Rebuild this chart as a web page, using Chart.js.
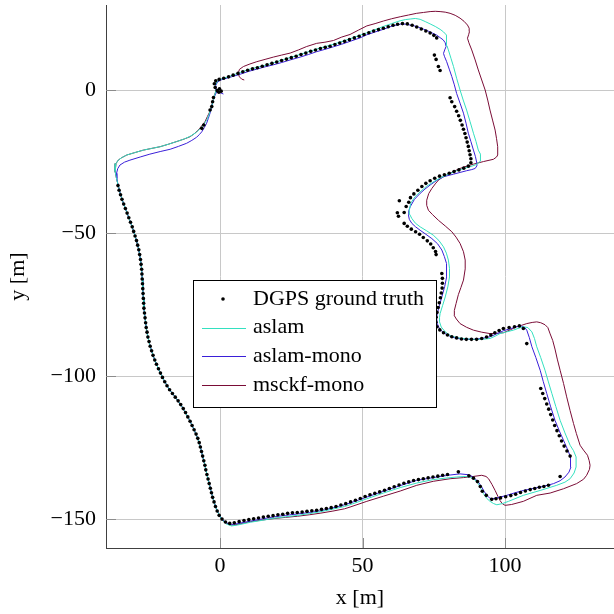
<!DOCTYPE html>
<html lang="en">
<head>
    <meta charset="UTF-8">
    <title>Trajectory comparison</title>
    <script src="https://cdn.jsdelivr.net/npm/chart.js"></script>
    <style>
        html, body { margin: 0; background: #fff; overflow: hidden; }
        #wrap { width: 614px; height: 614px; overflow: hidden; }
        canvas { display: block; }
    </style>
</head>
<body>
    <div id="wrap"><canvas id="trajChart" width="618" height="614"></canvas></div>

    <script>
        const seriesNames = ['DGPS ground truth', 'aslam', 'aslam-mono', 'msckf-mono'];
        const seriesColors = ['#000000', '#33e0c0', '#3a1fd8', '#7a0c36'];
        const xTicks = [0, 50, 100];
        const yTicks = [0, -50, -100, -150];

        // DGPS ground truth dots [x, y] in metres
        const dgpsPts = [
            [-0.4,-0.8],[0.4,-0.4],[-1,-0.2],[-0.2,0.4],[-1.7,0.9],[-2,2.2],[-1.5,3.2],[-0.3,3.7],[1.3,4.1],[3,4.6],
            [4.6,5.2],[6.3,5.8],[8,6.4],[9.7,6.9],[11.4,7.4],[13.1,7.8],[14.8,8.3],[16.5,8.8],[18.2,9.3],[19.9,9.8],
            [21.6,10.3],[23.3,10.8],[25,11.3],[26.7,11.8],[28.4,12.4],[30.1,12.9],[31.8,13.5],[33.5,14],[35.2,14.5],[36.9,14.9],
            [38.6,15.3],[40.3,15.9],[42,16.4],[43.7,17],[45.4,17.6],[47.1,18.2],[48.8,18.8],[50.5,19.4],[52.2,20],[53.9,20.6],
            [55.6,21.1],[57.3,21.6],[59,22.1],[60.7,22.6],[62.3,23],[64,23.2],[65.7,23.1],[67.4,22.6],[69,22],[70.6,21.3],
            [72.2,20.6],[73.7,19.9],[75,19.1],[76,18.2],
            [75.2,12.2],[75.8,10.7],[76.6,8.2],[77.2,6.8],
            [80.7,-2.7],[81.3,-4.1],[82.3,-5.8],[83,-7.4],[83.7,-9],[84.3,-10.6],[84.9,-12.2],[85.4,-13.7],[85.9,-15.2],[86.3,-16.7],
            [86.7,-18.2],[87.1,-19.7],[87.4,-21.2],[87.7,-22.6],[88,-24],[88,-25.4],[87.1,-26.6],[85.5,-27.3],[83.8,-27.9],[82.1,-28.5],
            [80.4,-29.1],[78.7,-29.6],[77,-30.1],[75.3,-30.8],[73.7,-31.7],[72.2,-32.6],[70.8,-33.7],[69.4,-35],[68,-36.3],[66.8,-37.6],
            [66.2,-39.2],[65.3,-40.7],
            [62.9,-38.7],[62.2,-42.9],[62.6,-44.1],[64.6,-42.8],
            [64.6,-46.6],[65.7,-47.6],[67.1,-48.6],[68.6,-49.5],[70,-50.4],[71.3,-51.5],[72.7,-52.7],[73.9,-53.8],[74.8,-55.1],[75.6,-56.4],
            [75.8,-57.5],
            [77.8,-64.1],[78,-65.8],[78,-67.5],[77.9,-69.2],[77.6,-70.9],[77.3,-72.6],[76.9,-74.3],[76.5,-76],[76.1,-77.7],[75.8,-79.4],
            [75.7,-81.1],[76.1,-82.7],[77.1,-83.8],[78.4,-84.8],[79.8,-85.6],[81.3,-86.2],[83,-86.6],[84.7,-87],[86.4,-87.1],[88.2,-87.1],
            [90,-87.1],[91.8,-86.8],[93.5,-86.3],[95,-85.6],[96.4,-84.8],[97.9,-84],[99.4,-83.3],[101.4,-83],[103.3,-82.7],[105,-82.4],
            [106.4,-83.3],[107.6,-88.6],
            [112.5,-104.3],[113.2,-106],[113.9,-107.8],[114.6,-109.7],[115.3,-111.5],[116,-113.4],[116.7,-115.3],[117.4,-117.2],[118.2,-119],[119,-120.8],
            [119.8,-122.6],[120.7,-124.4],[121.7,-126.1],[122.8,-127.9],
            [119.3,-135],
            [115.2,-138.1],[113.6,-138.5],[112,-138.8],[110.4,-139.2],[108.8,-139.6],[107.1,-140.1],[105.4,-140.6],[103.7,-141.2],[102,-141.7],[100.2,-142.1],
            [98.4,-142.5],[96.8,-142.8],[95.3,-143],
            [93.4,-141.6],[92,-140.2],[91.3,-138.5],[90.3,-136.8],[88.9,-135.6],[87.3,-134.8],
            [83.6,-133.4],
            [79.8,-134.3],[78.1,-134.6],[76.4,-134.9],[74.7,-135.2],[73,-135.5],[71.3,-135.8],[69.6,-136.1],[67.9,-136.4],[66.2,-136.9],[64.5,-137.4],
            [62.8,-138],[61.1,-138.6],[59.4,-139.2],[57.7,-139.8],[56,-140.4],[54.3,-140.9],[52.6,-141.4],[50.9,-142],[49.2,-142.7],[47.5,-143.3],
            [45.8,-143.9],[44.1,-144.5],[42.4,-145],[40.7,-145.5],[39,-145.9],[37.3,-146.2],[35.6,-146.5],[33.9,-146.8],[32.2,-147],[30.5,-147.2],
            [28.8,-147.4],[27.1,-147.6],[25.4,-147.7],[23.7,-147.9],[22,-148.2],[20.3,-148.4],[18.6,-148.7],[16.9,-148.9],[15.2,-149.2],[13.5,-149.5],
            [11.8,-149.8],[10.1,-150.1],[8.4,-150.4],[6.7,-150.8],[5,-151.2],[3.4,-151.4],[1.9,-150.9],[0.7,-149.9],[-0.3,-148.6],[-1,-147.1],
            [-1.6,-145.5],[-2.1,-143.9],
            [-2.6,-142.3],[-3,-140.7],[-3.4,-139.1],[-3.8,-137.5],[-4.2,-135.9],[-4.6,-134.3],[-5,-132.7],[-5.3,-131.1],[-5.7,-129.5],[-6.1,-127.9],
            [-6.5,-126.3],[-6.9,-124.7],[-7.3,-123.2],[-7.8,-121.7],[-8.4,-120.2],[-9.1,-118.7],[-9.8,-117.2],[-10.5,-115.7],[-11.3,-114.2],[-12.1,-112.7],
            [-12.9,-111.3],[-13.8,-109.9],[-14.7,-108.6],[-15.7,-107.3],[-16.7,-106],[-17.7,-104.7],[-18.6,-103.3],[-19.4,-101.9],[-20.2,-100.4],[-20.9,-98.9],
            [-21.6,-97.4],[-22.3,-95.8],[-22.9,-94.3],[-23.5,-92.7],[-24,-91.1],[-24.5,-89.5],[-24.9,-87.9],[-25.3,-86.3],[-25.6,-84.6],[-25.9,-83],
            [-26.1,-81.3],[-26.3,-79.6],[-26.5,-77.9],[-26.7,-76.2],[-26.8,-74.5],[-26.9,-72.8],[-27,-71.1],[-27.1,-69.4],[-27.2,-67.7],[-27.3,-66],
            [-27.4,-64.3],[-27.5,-62.6],[-27.7,-60.9],[-27.9,-59.2],[-28.2,-57.5],[-28.5,-55.8],[-28.9,-54.2],[-29.3,-52.6],[-29.8,-51],[-30.3,-49.4],
            [-30.8,-47.8],[-31.4,-46.2],[-32,-44.6],[-32.6,-43],[-33.2,-41.4],[-33.8,-39.8],[-34.4,-38.2],[-34.9,-36.6],[-35.4,-35],[-35.8,-33.4],
            [-6.4,-13.4],[-5.7,-12.2],[-3.5,-7],[-2.9,-5.8],[-2.6,-4.1],[-2.3,-2.6]
        ];

        const aslamPts = [
            [-1.3,0.3],[-1.8,-1.5],[-2.4,-3.8],[-3.1,-6.2],[-3.8,-8.4],[-4.6,-10.3],[-5.6,-11.9],[-6.8,-13.3],[-8.3,-14.8],[-10.5,-16.2],
            [-12.8,-17.2],[-15.2,-18],[-18,-18.9],[-21,-19.8],[-24,-20.4],[-26.9,-21],[-30,-21.9],[-32.7,-22.7],[-34.6,-23.7],[-35.7,-24.5],
            [-36.5,-25.7],[-36.8,-26.8],[-36.8,-28.5],[-36.4,-30.5],[-35.8,-33],
            [-34.9,-36.6],[-33.8,-39.8],[-32.6,-43],[-31.4,-46.2],[-30.3,-49.4],[-29.3,-52.6],[-28.5,-55.8],[-27.9,-59.2],[-27.5,-62.6],[-27.3,-66],
            [-27.1,-69.4],[-26.9,-72.8],[-26.7,-76.2],[-26.3,-79.6],[-25.9,-83],[-25.3,-86.3],[-24.5,-89.5],[-23.5,-92.7],[-22.3,-95.8],[-20.9,-98.9],
            [-19.4,-101.9],[-17.7,-104.7],[-15.7,-107.3],[-13.8,-109.9],[-12.1,-112.7],[-10.5,-115.7],[-9.1,-118.7],[-7.8,-121.7],[-6.9,-124.7],[-6.1,-127.9],
            [-5.3,-131.1],[-4.6,-134.3],[-3.8,-137.5],[-3,-140.7],[-2.1,-143.9],[-1,-147.1],
            [0.5,-149.9],[2,-151.5],[4,-152.3],[6,-152],[10.7,-151],[15,-150.3],[19,-149.6],[23,-149.1],[27.2,-148.6],[31.3,-148],
            [35.4,-147.3],[39.6,-146.4],[43.7,-145.5],[45.6,-144.9],[51.5,-142.8],[57.3,-140.8],[63.2,-138.9],[69,-137.3],[74.8,-136.1],[79,-135.6],
            [83,-135.2],[86,-135],[87.7,-135.2],[89.4,-136.2],[90.6,-137.5],[91.5,-139.3],[92.4,-141],[93.5,-142.6],[94.7,-143.7],[96,-144.5],
            [97.1,-144.9],[99,-144.5],[101.2,-143.7],[106.4,-141.6],[112.3,-139.9],[118.1,-138.1],[121,-137],[122.8,-135.8],[124.2,-133.8],[124.9,-131.7],
            [124.9,-128.2],[124,-126],[122.8,-124.1],[121,-119.8],[119.3,-115.4],[117.8,-110.6],[116.4,-106],[115.2,-102],[114,-97.9],[112.5,-93.5],
            [111.1,-89.7],[110.3,-86.8],[109.4,-84.5],[108,-83],[106.4,-82.7],[104.5,-83.3],[102.9,-83.9],[100.5,-84.5],[98.2,-85.1],[96.5,-86],
            [94.7,-86.8],[91.8,-87.1],[88.9,-87.1],[86,-86.9],[83,-86.5],[80.8,-85.8],[79,-84.5],[77.6,-82.8],[77,-81],[77,-79.5],
            [77.2,-78.1],[78.1,-75.2],[79,-72.3],[79.9,-68.8],[80.5,-65.3],[80.5,-62.3],[80.1,-59.4],[79.4,-57],[78.4,-54.8],[76.8,-52.6],
            [74.8,-50.7],[72.5,-49.2],[70.2,-47.8],[68.5,-46.5],[67.3,-44.9],[66.5,-43.4],[66.4,-42],[66.9,-39.5],[68.4,-37.3],[70.5,-35.3],
            [72.5,-33.6],[75.3,-31.8],[77.5,-30.6],[79.5,-29.7],[83,-28.2],[85.5,-27.4],[87.7,-26.8],[89.5,-26.2],[90.6,-25.6],[91.3,-24.8],
            [91.5,-23.9],[91.2,-22.4],[90.6,-21],[89.8,-18],[88.9,-15.1],[87.7,-11],[86.5,-7],[85.3,-3.5],[84.2,0],[83,4.1],
            [81.9,8.2],[81,11.1],[80.1,14],[79.6,15.5],[79.5,16.9],[79.5,18.3],[79.3,19.2],[78.4,20.3],[77.2,21.2],[75.5,22.2],
            [73.7,23.1],[72,23.9],[70.2,24.7],[68.5,25],[66.7,24.8],[65,24.6],[63.2,24.2],[60.2,23.2],[57.3,22.2],[51.5,20],
            [45.6,17.9],[39.8,16],[33.9,14.3],[28,12.4],[22.2,10.6],[16.4,8.8],[10.5,7.3],[5.8,5.7],[2.5,4.5],[0.3,3.8],
            [-1,3],[-1.7,1.6]
        ];

        const aslamMonoPts = [
            [1.2,-1.4],[0,-0.9],[-1.2,-0.7],[-1.8,-2],[-2.3,-3.5],[-2.9,-5.8],[-3.5,-8.1],[-4.1,-9.9],[-4.7,-11.6],[-5.5,-13.1],
            [-6.4,-14.6],[-7.3,-15.6],[-8.2,-16.5],[-9.9,-17.6],[-11.7,-18.6],[-14.6,-19.7],[-17.5,-20.7],[-21,-21.5],[-24.6,-22.4],[-28,-23.4],
            [-31.6,-24.5],[-33.5,-25.2],[-35.1,-26.2],[-35.9,-27.5],[-36.3,-29.1],[-36.2,-31],[-35.8,-33],
            [-34.9,-36.6],[-33.8,-39.8],[-32.6,-43],[-31.4,-46.2],[-30.3,-49.4],[-29.3,-52.6],[-28.5,-55.8],[-27.9,-59.2],[-27.5,-62.6],[-27.3,-66],
            [-27.1,-69.4],[-26.9,-72.8],[-26.7,-76.2],[-26.3,-79.6],[-25.9,-83],[-25.3,-86.3],[-24.5,-89.5],[-23.5,-92.7],[-22.3,-95.8],[-20.9,-98.9],
            [-19.4,-101.9],[-17.7,-104.7],[-15.7,-107.3],[-13.8,-109.9],[-12.1,-112.7],[-10.5,-115.7],[-9.1,-118.7],[-7.8,-121.7],[-6.9,-124.7],[-6.1,-127.9],
            [-5.3,-131.1],[-4.6,-134.3],[-3.8,-137.5],[-3,-140.7],[-2.1,-143.9],[-1,-147.1],
            [0.5,-149.7],[2,-151.1],[4,-151.8],[6,-151.5],[10.7,-150.6],[15,-149.8],[19,-149.1],[23,-148.6],[27.2,-148.1],[31.3,-147.6],
            [35.4,-147],[39.6,-146],[43.7,-144.9],[45.6,-144.3],[51.5,-142.2],[57.3,-140.2],[63.2,-138.2],[69,-136.4],[74.8,-135.4],[80.7,-134.5],
            [84.2,-134.1],[87.1,-134.4],[88.5,-135],[89.5,-135.8],[90.8,-137.2],[91.8,-138.7],[92.7,-140.3],[93.6,-141.6],[94.5,-142.5],[95.3,-142.8],
            [97.1,-142.5],[100.6,-141.6],[103.5,-140.7],[106.4,-139.9],[109.4,-139.3],[112.3,-138.7],[114.8,-138.1],[117,-137.5],[119.3,-136.5],[121,-135.2],
            [122.4,-133.5],[123.1,-131.7],[123.1,-129.8],[122.8,-128.2],[122,-125.8],[121,-123.5],[119.2,-119.5],[117.5,-115.4],[116,-110.7],[114.6,-106],
            [113.4,-101.9],[112.3,-97.9],[110.8,-93.5],[109.4,-89.7],[108.5,-86.5],[107.6,-83.9],[106.8,-82.9],[105.8,-82.5],[104,-82.7],[101.8,-83.4],
            [99.4,-84.1],[97,-85.2],[94.7,-86.2],[91.8,-86.8],[88.9,-87.1],[86,-87],[83,-86.8],[80.6,-86],[78.4,-84.8],[77,-83.4],
            [76.2,-81.6],[76,-79.8],[76.2,-78.1],[77,-75.2],[77.8,-72.3],[78.8,-68.7],[79.5,-65.3],[79.6,-62.8],[79.3,-60.6],[78.7,-58.2],
            [77.8,-55.9],[76.3,-53.7],[74.3,-51.9],[72.2,-50.4],[70.2,-49],[68.6,-47.8],[67.3,-46.6],[66.4,-45.2],[66.1,-43.7],[66.2,-42.2],
            [66.7,-40.8],[68.2,-38.2],[70.2,-36.1],[71.9,-34.6],[73.7,-33.2],[76,-31.6],[78.4,-30.3],[81.9,-29.4],[84.2,-28.8],[86.5,-28.2],
            [88.3,-27.8],[89.5,-27.4],[90.1,-26.5],[90.1,-25.6],[89.6,-23.3],[88.9,-21],[88,-18],[87.1,-15.1],[86.3,-11.6],[85.4,-8.1],
            [84.2,-4.6],[83,-1.2],[82.2,1.8],[81.3,4.7],[80.4,7.3],[79.5,9.9],[78.7,11.8],[78.4,12.8],[78.8,14],[79.3,15.2],
            [79,16.5],[78.3,17.5],[77.2,18.3],[76,19.2],[74.5,19.9],[73,20.6],[71.3,21.3],[69.5,22],[67.8,22.5],[66.7,22.7],
            [65,23],[63.2,23],[60,22.2],[57.3,21.2],[54.5,20.3],[51.5,19.3],[49.1,18.2],[45.6,17],[42.7,16],[39.8,15.1],
            [36.8,14.2],[33.9,13.4],[31,12.4],[28.1,11.5],[24.6,10.5],[21.6,9.6],[18.7,8.8],[15.8,8.1],[12.9,7.3],[10,6.5],
            [7,5.5],[4,4.6],[1.5,3.9],[0,3.4],[-1,2.6],[-1.6,1.4],[-1.5,0.2]
        ];

        const msckfMonoPts = [
            [-1.4,-0.3],[-1.9,-1.6],[-2.6,-4],[-3.3,-7],[-4.4,-9.2],[-5.3,-11.1],[-6.5,-12.6],[-7.6,-14],[-9.2,-15.4],[-10.5,-16.3],
            [-12.5,-17.1],[-15.2,-18],[-18,-18.9],[-21,-19.8],[-24,-20.4],[-26.9,-21],[-30,-21.9],[-32.7,-22.7],[-34.6,-23.7],[-35.7,-24.5],
            [-36.5,-25.7],[-36.8,-26.8],[-36.8,-28.5],[-36.4,-30.5],[-35.8,-33],
            [-34.9,-36.6],[-33.8,-39.8],[-32.6,-43],[-31.4,-46.2],[-30.3,-49.4],[-29.3,-52.6],[-28.5,-55.8],[-27.9,-59.2],[-27.5,-62.6],[-27.3,-66],
            [-27.1,-69.4],[-26.9,-72.8],[-26.7,-76.2],[-26.3,-79.6],[-25.9,-83],[-25.3,-86.3],[-24.5,-89.5],[-23.5,-92.7],[-22.3,-95.8],[-20.9,-98.9],
            [-19.4,-101.9],[-17.7,-104.7],[-15.7,-107.3],[-13.8,-109.9],[-12.1,-112.7],[-10.5,-115.7],[-9.1,-118.7],[-7.8,-121.7],[-6.9,-124.7],[-6.1,-127.9],
            [-5.3,-131.1],[-4.6,-134.3],[-3.8,-137.5],[-3,-140.7],[-2.1,-143.9],[-1,-147.1],
            [0.5,-149.8],[2,-151.2],[4,-152],[6,-151.8],[10.7,-150.8],[15,-150.2],[19,-149.7],[23,-149.3],[27.2,-148.9],[31.3,-148.4],
            [35.4,-147.8],[39.6,-147.1],[43.7,-146.3],[45.6,-145.7],[51.5,-143.7],[57.3,-141.9],[63.2,-140.1],[69,-138.1],[74.8,-136.7],[80.7,-135.8],
            [85.4,-135.4],[88.9,-135],[91.8,-134.6],[93.3,-135],[94.2,-135.8],[95.4,-137.8],[96.5,-139.9],[97.5,-142],[98.2,-143.4],[99,-144.5],
            [100,-145.1],[102.3,-144.8],[106.4,-143.7],[111.1,-141.6],[115.8,-140.8],[120.5,-139.3],[125.1,-137.5],[127.5,-136],[128.6,-134.6],[129.6,-132.5],
            [129.8,-131.1],[129.5,-129.5],[128.9,-127.6],[127.5,-125.8],[126.3,-124.1],[125,-120],[124,-116.5],[122.8,-112],[121.6,-107.2],[120.5,-102.5],
            [119.3,-97.9],[118.3,-94],[117.5,-90.5],[116.7,-87.5],[115.8,-85.2],[115,-83],[114,-82],[112.5,-81.3],[111.1,-81],[109.5,-81.2],
            [107.6,-81.6],[105.8,-82.2],[104,-82.7],[101.8,-83.8],[99.4,-84.8],[97,-85],[94.7,-85.1],[91.8,-84.6],[88.9,-83.9],[86.5,-82.9],
            [84.2,-81.6],[82.9,-80],[82.1,-78.7],[82.2,-77],[82.8,-74.6],[83.6,-71.5],[84.5,-69],[85.4,-66.4],[86,-62.5],[86,-59.4],
            [85.4,-56.5],[84.2,-53.6],[82.8,-51.4],[81.3,-49.5],[79,-47.5],[76.6,-45.5],[74.5,-43.5],[73.1,-42],[72.5,-40.3],[72.5,-38.5],
            [73.2,-36.2],[74.3,-34.4],[75.5,-32.8],[76.6,-31.5],[78,-30.5],[79.5,-29.7],[82,-28.4],[84.2,-27.4],[86.5,-26.6],[88.9,-25.9],
            [92.4,-25],[95.9,-24.2],[97,-23.4],[97.4,-22.7],[97.4,-19.8],[97,-17],[96.5,-14],[95.6,-10.5],[94.7,-7],[93.9,-3.5],
            [93,0],[91.8,3.5],[90.6,7],[89.5,10.5],[88.3,14],[87.3,16.5],[86.8,18.1],[87.2,19.3],[87.5,20.4],[87.4,21.6],
            [86.8,22.7],[85.6,24],[84.2,25.1],[82.5,26.1],[80.7,26.8],[79,27.2],[77.2,27.4],[75.5,27.5],[73.7,27.4],[71.4,27.1],
            [69,26.8],[66.1,26.2],[63.2,25.6],[60.2,24.9],[57.3,24.1],[54.4,23.2],[51.5,22.4],[48.5,20.9],[45.6,19.4],[42.7,18.5],
            [39.8,17.3],[36.8,16.7],[33.9,16.3],[30.4,15.2],[27.5,14],[24.6,12.9],[21.6,12.2],[18.7,11.5],[15.8,10.7],[12.9,9.9],
            [10.5,9.1],[8.2,8.2],[6.8,7.2],[6.4,5.8],[6.8,4.6],[7.6,3.8],[8.5,3.5]
        ];

        const toXY = pts => pts.map(p => ({ x: p[0], y: p[1] }));
        const minusSign = v => String(v).replace('-', '\u2212');

        // ticks drawn inwards from the two axis lines
        const innerTicks = {
            id: 'innerTicks',
            beforeDatasetsDraw(chart) {
                const { ctx, chartArea: a, scales: { x, y } } = chart;
                ctx.save();
                ctx.strokeStyle = '#8c8c8c';
                ctx.lineWidth = 1;
                ctx.beginPath();
                xTicks.forEach(v => {
                    const px = Math.round(x.getPixelForValue(v)) + 0.5;
                    ctx.moveTo(px, a.bottom);
                    ctx.lineTo(px, a.bottom - 10);
                });
                yTicks.forEach(v => {
                    const py = Math.round(y.getPixelForValue(v)) + 0.5;
                    ctx.moveTo(a.left, py);
                    ctx.lineTo(a.left + 10, py);
                });
                ctx.stroke();
                ctx.restore();
            }
        };

        // boxed legend inside the plot
        const legendBox = {
            id: 'legendBox',
            afterDraw(chart) {
                const ctx = chart.ctx;
                const bx = 193, by = 280, bw = 243, bh = 127;
                ctx.save();
                ctx.fillStyle = '#fff';
                ctx.fillRect(bx, by, bw, bh);
                ctx.strokeStyle = '#000';
                ctx.lineWidth = 1;
                ctx.strokeRect(bx + 0.5, by + 0.5, bw, bh);
                ctx.font = '22px "Liberation Serif", serif';
                ctx.textBaseline = 'middle';
                chart.data.datasets.forEach((ds, i) => {
                    const ry = by + 19 + i * 28.7;
                    if (ds.showLine) {
                        ctx.strokeStyle = ds.borderColor;
                        ctx.beginPath();
                        ctx.moveTo(bx + 9, Math.round(ry) + 0.5);
                        ctx.lineTo(bx + 53, Math.round(ry) + 0.5);
                        ctx.stroke();
                    } else {
                        ctx.fillStyle = ds.backgroundColor;
                        ctx.beginPath();
                        ctx.arc(bx + 30, ry, 1.8, 0, Math.PI * 2);
                        ctx.fill();
                    }
                    ctx.fillStyle = '#000';
                    ctx.fillText(ds.label, bx + 60, ry);
                });
                ctx.restore();
            }
        };

        Chart.defaults.font.family = '"Liberation Serif", serif';
        Chart.defaults.font.size = 22;
        Chart.defaults.color = '#000';

        const lineSet = (i, pts) => ({
            label: seriesNames[i],
            data: toXY(pts),
            showLine: true,
            borderColor: seriesColors[i],
            borderWidth: 1,
            pointRadius: 0,
            fill: false,
            tension: 0
        });

        new Chart(document.getElementById('trajChart'), {
            type: 'scatter',
            data: {
                datasets: [
                    {
                        label: seriesNames[0],
                        data: toXY(dgpsPts),
                        showLine: false,
                        backgroundColor: seriesColors[0],
                        borderWidth: 0,
                        pointRadius: 1.8
                    },
                    lineSet(1, aslamPts),
                    lineSet(2, aslamMonoPts),
                    lineSet(3, msckfMonoPts)
                ]
            },
            options: {
                responsive: false,
                animation: false,
                layout: { padding: { top: 5, left: 0, right: 0, bottom: 0 } },
                plugins: { legend: { display: false }, tooltip: { enabled: false } },
                scales: {
                    x: {
                        type: 'linear',
                        min: -40,
                        max: 138.2,
                        afterBuildTicks: s => { s.ticks = xTicks.map(v => ({ value: v })); },
                        afterFit: s => { s.height = 66; s.paddingLeft = 0; s.paddingRight = 0; },
                        grid: { color: '#c8c8c8', drawTicks: false },
                        border: { display: true, color: '#404040', width: 1 },
                        ticks: { padding: 5, callback: minusSign },
                        title: { display: true, text: 'x [m]', padding: { top: 0, bottom: 3 } }
                    },
                    y: {
                        type: 'linear',
                        min: -160,
                        max: 29.7,
                        afterBuildTicks: s => { s.ticks = yTicks.map(v => ({ value: v })); },
                        afterFit: s => { s.width = 106; s.paddingTop = 0; s.paddingBottom = 0; },
                        grid: { color: '#c8c8c8', drawTicks: false },
                        border: { display: true, color: '#404040', width: 1 },
                        ticks: { padding: 10, callback: minusSign },
                        title: { display: true, text: 'y [m]', padding: { top: 5, bottom: 0 } }
                    }
                }
            },
            plugins: [innerTicks, legendBox]
        });
    </script>
</body>
</html>
